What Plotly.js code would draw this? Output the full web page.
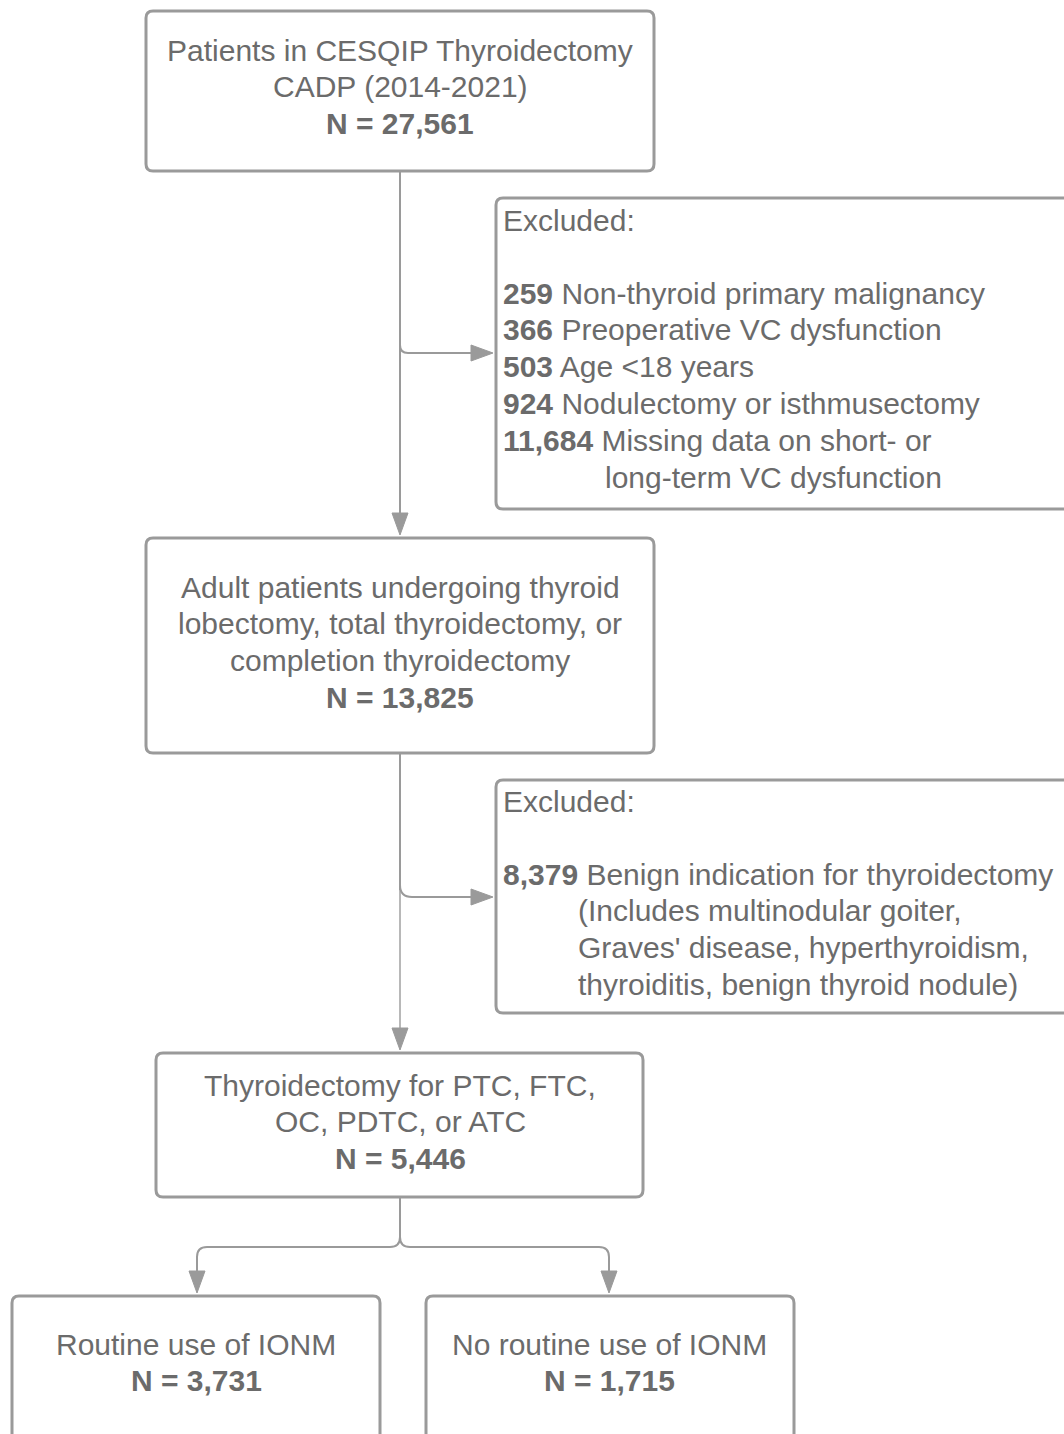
<!DOCTYPE html>
<html>
<head>
<meta charset="utf-8">
<script src="https://cdn.plot.ly/plotly-3.0.1.min.js"></script>
<style>html,body{margin:0;padding:0;background:#fff;}#chart{width:1064px;height:1434px;}</style>
</head>
<body>
<div id="chart"></div>
<script>
// ---------- DATA ----------
const stageTitles = [
  ["Patients in CESQIP Thyroidectomy", "CADP (2014-2021)"],
  ["Adult patients undergoing thyroid", "lobectomy, total thyroidectomy, or", "completion thyroidectomy"],
  ["Thyroidectomy for PTC, FTC,", "OC, PDTC, or ATC"],
  ["Routine use of IONM"],
  ["No routine use of IONM"]
];
const stageCounts = [27561, 13825, 5446, 3731, 1715];

const exclusionHeader = "Excluded:";
const exclusion1Counts = [259, 366, 503, 924, 11684];
const exclusion1Reasons = [
  ["Non-thyroid primary malignancy"],
  ["Preoperative VC dysfunction"],
  ["Age <18 years"],
  ["Nodulectomy or isthmusectomy"],
  ["Missing data on short- or", "long-term VC dysfunction"]
];
const exclusion2Counts = [8379];
const exclusion2Reasons = [
  ["Benign indication for thyroidectomy", "(Includes multinodular goiter,", "Graves' disease, hyperthyroidism,", "thyroiditis, benign thyroid nodule)"]
];

// ---------- LAYOUT GEOMETRY ----------
const W = 1064, H = 1434;
const LINE = 36.8;
const stageBoxes = [
  {x0:146, x1:654, y0:11,   y1:171,  cx:400, ty:50},
  {x0:146, x1:654, y0:538,  y1:753,  cx:400, ty:587},
  {x0:156, x1:643, y0:1053, y1:1197, cx:400, ty:1085},
  {x0:12,  x1:380, y0:1296, y1:1460, cx:196, ty:1344},
  {x0:426, x1:794, y0:1296, y1:1460, cx:609, ty:1344}
];
const exclBoxes = [
  {x0:496, x1:1090, y0:198, y1:509,  tx:501, hy:220, iy:293, indent:603},
  {x0:496, x1:1090, y0:780, y1:1013, tx:501, hy:801, iy:874, indent:576}
];

const TEXT = "#6b6b6b";
const LINEC = "#9a9a9a";
const FONT = "Liberation Sans, Arial, sans-serif";
const FS = 30;

function rrect(b, r) {
  return `M${b.x0+r},${b.y0} H${b.x1-r} Q${b.x1},${b.y0} ${b.x1},${b.y0+r} V${b.y1-r} Q${b.x1},${b.y1} ${b.x1-r},${b.y1} H${b.x0+r} Q${b.x0},${b.y1} ${b.x0},${b.y1-r} V${b.y0+r} Q${b.x0},${b.y0} ${b.x0+r},${b.y0} Z`;
}
const fmt = n => n.toLocaleString("en-US");

const shapes = [];
const annotations = [];

function boxShape(b) {
  shapes.push({type:"path", xref:"x", yref:"y", path:rrect(b, 7),
    line:{color:LINEC, width:3}, fillcolor:"rgba(0,0,0,0)", layer:"above"});
}
function lineShape(p, w) {
  shapes.push({type:"path", xref:"x", yref:"y", path:p, line:{color:LINEC, width:w||2}, fillcolor:"rgba(0,0,0,0)"});
}
function arrowDown(x, tip) {
  shapes.push({type:"path", xref:"x", yref:"y",
    path:`M${x-8},${tip-22} L${x+8},${tip-22} L${x},${tip} Z`, line:{color:LINEC, width:1}, fillcolor:LINEC});
}
function arrowRight(y, tip) {
  shapes.push({type:"path", xref:"x", yref:"y",
    path:`M${tip-22},${y-8} L${tip-22},${y+8} L${tip},${y} Z`, line:{color:LINEC, width:1}, fillcolor:LINEC});
}
function txt(x, y, t, anchor) {
  annotations.push({x:x, y:y, xref:"x", yref:"y", text:t, showarrow:false,
    xanchor:anchor||"center", yanchor:"middle", align:anchor==="left"?"left":"center",
    font:{family:FONT, size:FS, color:TEXT}});
}

// stage boxes
stageBoxes.forEach((b, i) => {
  boxShape(b);
  const lines = stageTitles[i];
  lines.forEach((l, j) => txt(b.cx, b.ty + j*LINE, l));
  txt(b.cx, b.ty + lines.length*LINE, "<b>N = " + fmt(stageCounts[i]) + "</b>");
});

// exclusion boxes
function exclusion(b, counts, reasons) {
  boxShape(b);
  txt(b.tx, b.hy, exclusionHeader, "left");
  let k = 0;
  counts.forEach((c, i) => {
    reasons[i].forEach((r, j) => {
      const y = b.iy + k*LINE;
      if (j === 0) txt(b.tx, y, "<b>" + fmt(c) + "</b> " + r, "left");
      else txt(b.indent, y, r, "left");
      k++;
    });
  });
}
exclusion(exclBoxes[0], exclusion1Counts, exclusion1Reasons);
exclusion(exclBoxes[1], exclusion2Counts, exclusion2Reasons);

// connectors
lineShape(`M400,171 V514`);
lineShape(`M400,345 Q400,353 408,353 H472`);
arrowDown(400, 535);
arrowRight(353, 493);

lineShape(`M400,753 V890`);
lineShape(`M400,890 V1030`, 1.4);
lineShape(`M400,885 Q400,897 412,897 H472`);
arrowDown(400, 1050);
arrowRight(897, 493);

lineShape(`M400,1197 V1237 Q400,1247 390,1247 H207 Q197,1247 197,1257 V1272`);
lineShape(`M400,1237 Q400,1247 410,1247 H599 Q609,1247 609,1257 V1272`);
arrowDown(197, 1293);
arrowDown(609, 1293);

const layout = {
  width:W, height:H,
  margin:{l:0, r:0, t:0, b:0, pad:0},
  paper_bgcolor:"#ffffff", plot_bgcolor:"#ffffff",
  xaxis:{range:[0, W], visible:false, fixedrange:true},
  yaxis:{range:[H, 0], visible:false, fixedrange:true},
  showlegend:false,
  shapes:shapes,
  annotations:annotations
};
Plotly.newPlot("chart", [{x:[], y:[], type:"scatter", mode:"markers"}], layout, {displayModeBar:false, staticPlot:true});
</script>
</body>
</html>
